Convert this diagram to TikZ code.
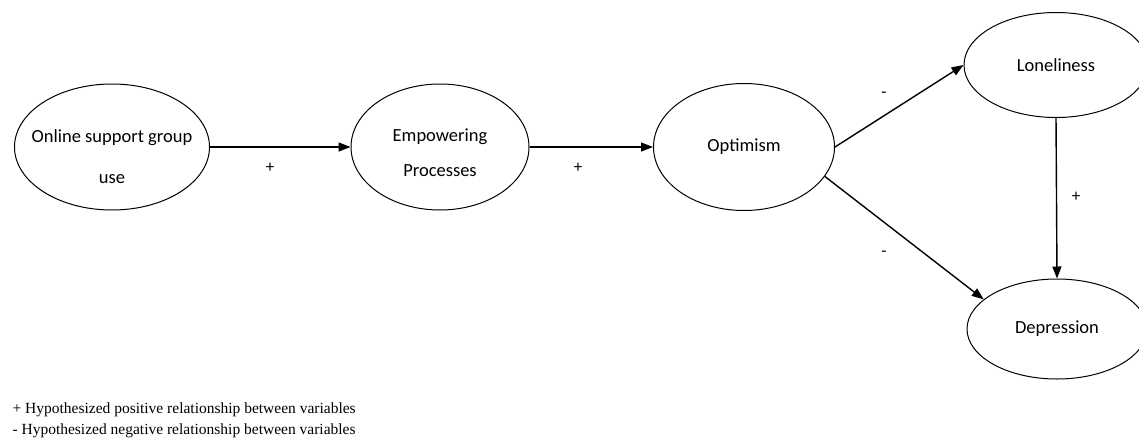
\documentclass[tikz,border=0pt]{standalone}
\usepackage{fontspec}
\setmainfont{Carlito}
\newfontfamily\legendfont{Liberation Serif}
\usetikzlibrary{shapes.geometric, arrows.meta}

\begin{document}
\begin{tikzpicture}[x=1pt, y=-1pt,
    var/.style={ellipse, draw, line width=1pt, inner sep=0pt, font=\fontsize{18.5}{22}\selectfont, align=center},
    vartext/.style={font=\fontsize{18.5}{22}\selectfont, align=center, inner sep=0pt},
    sign/.style={font=\fontsize{17}{20}\selectfont},
    path/.style={line width=1.4pt, -{Triangle[length=12pt, width=9pt]}}]
    \useasboundingbox (0,0) rectangle (1139,445);

    % variables
    \node[var, minimum width=195pt, minimum height=126pt] (osg) at (112,147) {};
    \node[vartext] (osg-t) at (112,157) {Online support group\\[19pt]use};
    \node[var, minimum width=178pt, minimum height=126pt] (emp) at (440,147) {};
    \node[vartext] (emp-t) at (440,153) {Empowering\\[13pt]Processes};
    \node[var, minimum width=181pt, minimum height=127pt] (opt) at (744,147) {Optimism};
    \node[var, minimum width=184pt, minimum height=105pt] (lon) at (1056,65) {Loneliness};
    \node[var, minimum width=180pt, minimum height=100pt] (dep) at (1057,329) {Depression};

    % paths
    \draw[path] (osg.east) -- (emp.west);
    \draw[path] (emp.east) -- (opt.west);
    \draw[path] (opt.east) -- (lon.west);
    \draw[path] (opt.-20) -- (dep.158);
    \draw[path] (lon.south) -- (dep.north);

    % signs
    \node[sign] (s1) at (270,168) {+};
    \node[sign] (s2) at (578,168) {+};
    \node[sign] (s3) at (884,95) {-};
    \node[sign] (s4) at (884,254) {-};
    \node[sign] (s5) at (1076,197) {+};

    % legend
    \node[anchor=west, font=\legendfont\fontsize{15.5}{18}\selectfont] (leg1) at (9,410) {+ Hypothesized positive relationship between variables};
    \node[anchor=west, font=\legendfont\fontsize{15.5}{18}\selectfont] (leg2) at (9,431) {- Hypothesized negative relationship between variables};
\end{tikzpicture}
\end{document}
